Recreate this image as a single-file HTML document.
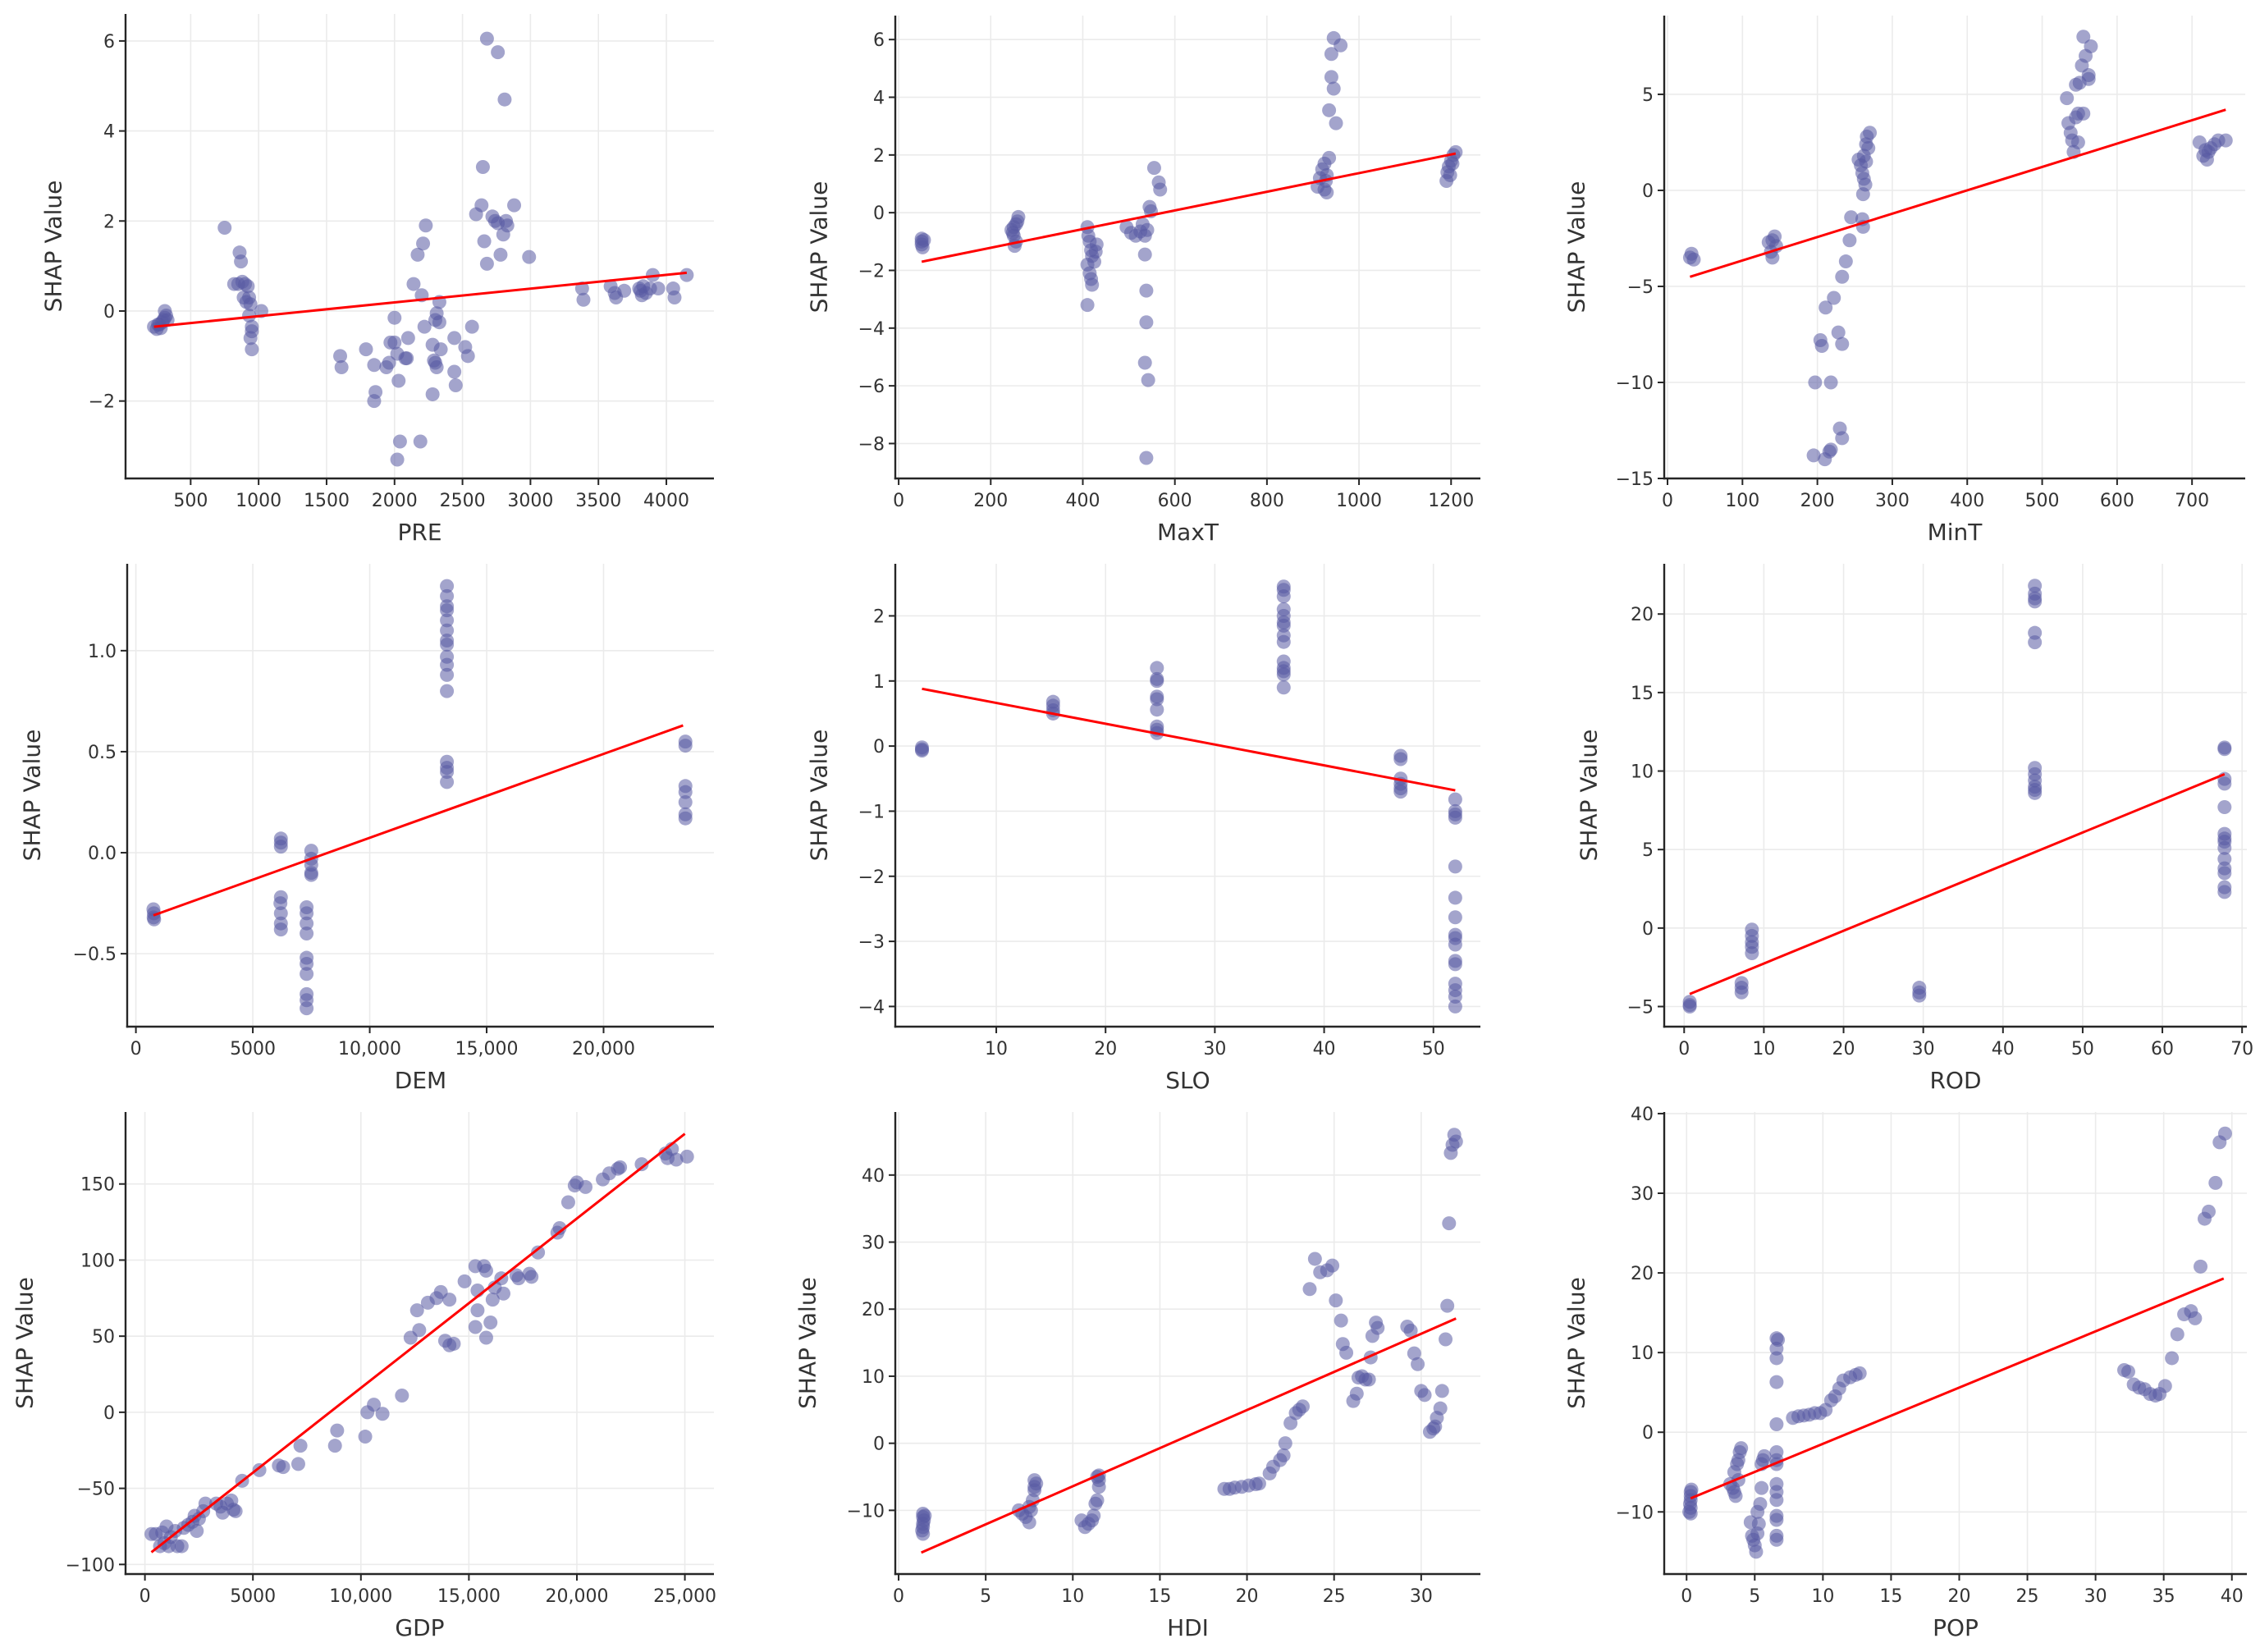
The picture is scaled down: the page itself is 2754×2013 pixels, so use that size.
<!DOCTYPE html>
<html><head><meta charset="utf-8"><style>
html,body{margin:0;padding:0;background:#fff;}
svg{display:block;font-family:"DejaVu Sans","Liberation Sans",sans-serif;}
</style></head><body>
<svg id="fig" width="2754" height="2013" viewBox="0 0 2754 2013" xmlns="http://www.w3.org/2000/svg"></svg>
<script>
// ---- data ----
const preX=[230,250,270,290,300,310,320,310,330,280,260,750,860,870,820,850,880,900,920,890,910,930,940,930,950,950,940,950,1020,1600,1610,1790,1850,1860,1850,1940,1960,1970,2000,2000,2020,2030,2040,2020,2090,2080,2100,2140,2170,2190,2200,2210,2230,2220,2280,2290,2300,2310,2280,2310,2300,2330,2340,2330,2440,2440,2450,2520,2540,2570,2600,2640,2650,2660,2680,2680,2720,2740,2760,2760,2780,2800,2810,2820,2830,2880,2990,3380,3390,3590,3620,3630,3690,3800,3810,3820,3830,3850,3880,3900,3940,4050,4060,4150];
const preY=[-0.35,-0.4,-0.3,-0.25,-0.2,-0.15,-0.1,0,-0.2,-0.38,-0.3,1.85,1.3,1.1,0.6,0.6,0.65,0.6,0.55,0.3,0.2,0.3,0.15,-0.1,-0.35,-0.45,-0.6,-0.85,0,-1.0,-1.25,-0.85,-1.2,-1.8,-2.0,-1.25,-1.15,-0.7,-0.7,-0.15,-0.95,-1.55,-2.9,-3.3,-1.05,-1.05,-0.6,0.6,1.25,-2.9,0.35,1.5,1.9,-0.35,-0.75,-1.1,-1.15,-1.25,-1.85,-0.05,-0.2,-0.25,-0.85,0.2,-0.6,-1.35,-1.65,-0.8,-1.0,-0.35,2.15,2.35,3.2,1.55,1.05,6.05,2.1,2.0,5.75,1.95,1.25,1.7,4.7,2.0,1.9,2.35,1.2,0.5,0.25,0.55,0.4,0.3,0.45,0.5,0.45,0.35,0.55,0.4,0.5,0.8,0.5,0.5,0.3,0.8];
const preLineX=[230,4150], preLineY=[-0.35,0.85];

const maxtX=[50,50,50,52,55,245,250,255,250,258,260,252,248,255,410,412,415,418,420,410,415,420,425,430,428,410,418,495,505,515,525,530,535,540,535,538,538,535,542,538,545,548,555,565,568,910,915,920,925,930,925,930,935,935,950,940,945,940,945,960,928,1190,1192,1195,1200,1205,1210,1198,1203];
const maxtY=[-0.9,-1.0,-1.1,-1.2,-0.95,-0.6,-0.8,-1.0,-0.5,-0.3,-0.15,-1.15,-0.7,-0.4,-0.5,-0.8,-1.0,-1.3,-1.5,-1.8,-2.1,-2.5,-1.7,-1.1,-1.35,-3.2,-2.3,-0.5,-0.7,-0.8,-0.65,-0.4,-0.8,-0.6,-1.45,-2.7,-3.8,-5.2,-5.8,-8.5,0.2,0.05,1.55,1.05,0.8,0.9,1.2,1.5,1.7,1.3,0.8,0.7,1.9,3.55,3.1,4.7,4.3,5.5,6.05,5.8,1.1,1.1,1.4,1.6,1.8,2.0,2.1,1.3,1.7];
const maxtLineX=[50,1210], maxtLineY=[-1.7,2.05];

const mintX=[30,32,35,135,138,140,143,145,140,195,210,218,216,230,233,197,218,204,206,228,233,211,222,233,238,243,245,260,261,255,258,260,262,261,264,262,265,266,268,270,265,533,535,538,540,542,545,548,545,550,555,553,558,555,565,562,562,548,710,715,720,722,725,730,735,745,718];
const mintY=[-3.5,-3.3,-3.6,-2.7,-3.2,-3.5,-2.4,-2.9,-2.6,-13.8,-14,-13.5,-13.6,-12.4,-12.9,-10,-10,-7.8,-8.1,-7.4,-8.0,-6.1,-5.6,-4.5,-3.7,-2.6,-1.4,-1.5,-1.9,1.6,1.3,0.9,0.6,-0.2,0.3,1.8,2.4,2.8,2.2,3.0,1.5,4.8,3.5,3.0,2.6,2.0,3.8,4.0,5.5,5.6,4.0,6.5,7.0,8.0,7.5,6.0,5.8,2.5,2.5,1.8,1.6,2.0,2.2,2.4,2.6,2.6,2.1];
const mintLineX=[30,745], mintLineY=[-4.5,4.2];

const demX=[750,760,770,780,6200,6200,6200,6200,6180,6200,6200,6200,7300,7300,7300,7300,7300,7300,7300,7300,7300,7300,7500,7500,7500,7500,7500,13300,13300,13300,13300,13300,13300,13300,13300,13300,13300,13300,13300,13300,13300,13300,13300,23500,23500,23500,23500,23500,23500,23500];
const demY=[-0.28,-0.32,-0.3,-0.33,0.05,0.07,0.03,-0.22,-0.25,-0.3,-0.35,-0.38,-0.27,-0.3,-0.35,-0.4,-0.52,-0.55,-0.6,-0.7,-0.73,-0.77,0.01,-0.03,-0.06,-0.1,-0.11,1.32,1.27,1.22,1.2,1.15,1.1,1.05,1.03,0.97,0.93,0.88,0.8,0.45,0.42,0.4,0.35,0.55,0.53,0.33,0.3,0.25,0.19,0.17];
const demLineX=[750,23400], demLineY=[-0.31,0.63];

const sloX=[3.2,3.2,3.2,15.2,15.2,15.2,15.2,24.7,24.7,24.7,24.7,24.7,24.7,24.7,24.7,24.7,36.3,36.3,36.3,36.3,36.3,36.3,36.3,36.3,36.3,36.3,36.3,36.3,36.3,36.3,47,47,47,47,47,47,52,52,52,52,52,52,52,52,52,52,52,52,52,52,52,52];
const sloY=[-0.02,-0.07,-0.05,0.68,0.62,0.55,0.5,1.2,1.03,1.0,0.76,0.72,0.56,0.3,0.25,0.2,2.45,2.4,2.3,2.1,2.0,1.9,1.85,1.7,1.6,1.3,1.2,1.15,1.1,0.9,-0.15,-0.2,-0.5,-0.58,-0.65,-0.7,-0.82,-1.0,-1.05,-1.1,-1.85,-2.33,-2.63,-2.9,-2.95,-3.05,-3.3,-3.35,-3.65,-3.75,-3.85,-4.0];
const sloLineX=[3.2,52], sloLineY=[0.88,-0.68];

const rodX=[0.7,0.7,0.7,7.2,7.2,7.2,8.5,8.5,8.5,8.5,8.5,29.5,29.5,29.5,44,44,44,44,44,44,44,44,44,44,44,44,67.8,67.8,67.8,67.8,67.8,67.8,67.8,67.8,67.8,67.8,67.8,67.8,67.8,67.8];
const rodY=[-4.7,-4.9,-5.0,-3.5,-3.8,-4.1,-0.1,-0.5,-0.9,-1.2,-1.6,-3.8,-4.1,-4.3,21.8,21.3,21.0,20.8,18.8,18.2,10.2,9.8,9.4,9.0,8.8,8.6,11.5,11.4,9.5,9.2,7.7,6.0,5.7,5.5,5.1,4.4,3.8,3.5,2.6,2.3];
const rodLineX=[0.7,67.8], rodLineY=[-4.2,9.8];

const gdpX=[300,500,700,800,1000,1100,1200,1400,1500,1700,1800,2000,2200,2300,2500,2700,2800,2400,900,3500,3600,3800,4000,4100,4200,3300,4500,5300,6200,6400,7100,7200,8800,8900,10200,10300,10600,11000,11900,12300,12700,12600,13100,13500,13700,14100,13900,14100,14300,14800,15300,15400,15700,15800,15400,15300,15800,16000,16100,16200,16500,16600,17200,17300,17800,17900,18200,19100,19200,19600,19900,20000,20400,21200,21500,21900,22000,23000,24200,24400,24600,25100,24100];
const gdpY=[-80,-80,-88,-79,-75,-88,-82,-78,-88,-88,-76,-74,-72,-68,-70,-65,-60,-78,-86,-62,-66,-60,-58,-64,-65,-60,-45,-38,-35,-36,-34,-22,-22,-12,-16,0,5,-1,11,49,54,67,72,75,79,74,47,44,45,86,96,80,96,93,67,56,49,59,74,82,88,78,90,88,91,89,105,118,121,138,149,151,148,153,157,160,161,163,167,173,166,168,170];
const gdpLineX=[300,25000], gdpLineY=[-92,183];

const hdiX=[1.4,1.4,1.45,1.4,1.4,1.35,1.4,1.5,6.9,7.1,7.3,7.5,7.6,7.7,7.8,7.8,7.9,7.8,7.5,10.5,10.7,10.9,11.1,11.2,11.3,11.4,11.5,11.5,11.5,11.4,18.7,19,19.3,19.7,20.1,20.5,20.7,21.3,21.5,21.9,22.1,22.2,22.5,22.8,23,23.2,23.6,23.9,24.2,24.6,24.9,25.1,25.4,25.5,25.7,26.1,26.3,26.4,26.6,26.8,27.0,27.1,27.2,27.4,27.5,29.2,29.4,29.6,29.8,30.0,30.2,30.5,30.7,30.8,30.9,31.1,31.2,31.4,31.5,31.6,31.7,31.8,31.9,32];
const hdiY=[-10.5,-11,-11.5,-12,-12.5,-13,-13.5,-10.8,-10,-10.5,-11,-11.8,-10,-8.5,-7,-6.5,-6,-5.5,-9.5,-11.5,-12.5,-12,-11.5,-10.8,-9,-8.5,-6.5,-5.5,-4.8,-5,-6.8,-6.8,-6.6,-6.5,-6.3,-6.1,-6,-4.5,-3.5,-2.5,-1.8,0,3,4.5,5,5.5,23,27.5,25.5,25.8,26.5,21.3,18.3,14.8,13.5,6.3,7.4,9.8,10,9.5,9.5,12.8,16,18,17.2,17.4,16.8,13.4,11.8,7.8,7.2,1.7,2.2,2.5,3.8,5.2,7.8,15.5,20.5,32.8,43.3,44.5,46,45];
const hdiLineX=[1.3,32], hdiLineY=[-16.3,18.6];

const popX=[0.3,0.3,0.3,0.25,0.3,0.2,0.3,0.35,3.2,3.4,3.5,3.6,3.5,3.7,3.8,3.9,4,3.8,4.7,4.8,4.9,5,5.1,5.2,5.2,5.3,5.4,5.5,5.5,5.7,5.6,6.6,6.6,6.6,6.6,6.6,6.6,6.6,6.6,6.6,6.6,6.6,6.6,6.6,6.6,6.6,6.7,7.8,8.2,8.6,9,9.4,9.8,10.2,10.6,10.9,11.2,11.5,12,12.4,12.7,32.1,32.4,32.8,33.2,33.6,34,34.4,34.7,35.1,35.6,36,36.5,37,37.3,37.7,38,38.3,38.8,39.1,39.5];
const popY=[-7.5,-8,-8.5,-9,-9.5,-10,-10.2,-7.2,-6.5,-7,-7.5,-8,-5,-4,-3.5,-2.5,-2,-6,-11.3,-13,-13.5,-14.2,-15,-12.7,-10,-11.5,-9,-7,-4,-3,-3.5,-2.5,-3.5,-4,-6.5,-7.5,-8.5,-10.5,-11,-13,-13.5,1,6.3,9.3,10.5,11.8,11.6,1.8,2.0,2.1,2.2,2.4,2.4,2.8,4,4.5,5.5,6.5,6.9,7.2,7.4,7.8,7.6,6,5.6,5.4,4.8,4.6,4.8,5.8,9.3,12.3,14.8,15.2,14.3,20.8,26.8,27.7,31.3,36.4,37.5];
const popLineX=[0.3,39.4], popLineY=[-8.3,19.3];

// tick values
const preXTicks=[500,1000,1500,2000,2500,3000,3500,4000], preYTicks=[-2,0,2,4,6];
const maxtXTicks=[0,200,400,600,800,1000,1200], maxtYTicks=[-8,-6,-4,-2,0,2,4,6];
const mintXTicks=[0,100,200,300,400,500,600,700], mintYTicks=[-15,-10,-5,0,5];
const demXTicks=[0,5000,10000,15000,20000], demYTicks=[-0.5,0,0.5,1.0];
const sloXTicks=[10,20,30,40,50], sloYTicks=[-4,-3,-2,-1,0,1,2];
const rodXTicks=[0,10,20,30,40,50,60,70], rodYTicks=[-5,0,5,10,15,20];
const gdpXTicks=[0,5000,10000,15000,20000,25000], gdpYTicks=[-100,-50,0,50,100,150];
const hdiXTicks=[0,5,10,15,20,25,30], hdiYTicks=[-10,0,10,20,30,40];
const popXTicks=[0,5,10,15,20,25,30,35,40], popYTicks=[-10,0,10,20,30,40];

// ---- layout ----
const panels=[
 {name:'pre',label:'PRE',x:preX,y:preY,lx:preLineX,ly:preLineY,xt:preXTicks,yt:preYTicks,box:[153,870,17,583],xd:[21,4350],yd:[-3.72,6.6],ylx:65,fmtY:v=>String(v)},
 {name:'maxt',label:'MaxT',x:maxtX,y:maxtY,lx:maxtLineX,ly:maxtLineY,xt:maxtXTicks,yt:maxtYTicks,box:[1091,1804,19,583],xd:[-7.3,1263.7],yd:[-9.21,6.83],ylx:998,fmtY:v=>String(v)},
 {name:'mint',label:'MinT',x:mintX,y:mintY,lx:mintLineX,ly:mintLineY,xt:mintXTicks,yt:mintYTicks,box:[2028,2736,19,583],xd:[-4.4,771],yd:[-15,9.1],ylx:1921,fmtY:v=>String(v)},
 {name:'dem',label:'DEM',x:demX,y:demY,lx:demLineX,ly:demLineY,xt:demXTicks,yt:demYTicks,box:[155,870,687,1251],xd:[-372,24720],yd:[-0.861,1.43],ylx:39,fmtY:v=>v.toFixed(1),comma:true},
 {name:'slo',label:'SLO',x:sloX,y:sloY,lx:sloLineX,ly:sloLineY,xt:sloXTicks,yt:sloYTicks,box:[1091,1804,687,1251],xd:[0.76,54.3],yd:[-4.31,2.8],ylx:998,fmtY:v=>String(v)},
 {name:'rod',label:'ROD',x:rodX,y:rodY,lx:rodLineX,ly:rodLineY,xt:rodXTicks,yt:rodYTicks,box:[2028,2738,687,1251],xd:[-2.5,70.6],yd:[-6.28,23.2],ylx:1936,fmtY:v=>String(v)},
 {name:'gdp',label:'GDP',x:gdpX,y:gdpY,lx:gdpLineX,ly:gdpLineY,xt:gdpXTicks,yt:gdpYTicks,box:[153,870,1355,1918],xd:[-897,26346],yd:[-106.3,197.3],ylx:30,fmtY:v=>String(v),comma:true},
 {name:'hdi',label:'HDI',x:hdiX,y:hdiY,lx:hdiLineX,ly:hdiLineY,xt:hdiXTicks,yt:hdiYTicks,box:[1091,1804,1355,1918],xd:[-0.19,33.4],yd:[-19.5,49.4],ylx:984,fmtY:v=>String(v)},
 {name:'pop',label:'POP',x:popX,y:popY,lx:popLineX,ly:popLineY,xt:popXTicks,yt:popYTicks,box:[2028,2738,1355,1918],xd:[-1.64,41.1],yd:[-17.8,40.2],ylx:1921,fmtY:v=>String(v)}
];
const NS='http://www.w3.org/2000/svg';
const svg=document.getElementById('fig');
function mk(tag,attrs,parent){const e=document.createElementNS(NS,tag);for(const k in attrs)e.setAttribute(k,attrs[k]);parent.appendChild(e);return e;}
function fmtX(v,comma){if(comma&&Math.abs(v)>=10000)return v.toLocaleString('en-US');return String(v);}
function neg(s){return s.replace('-','\u2212');}

panels.forEach(p=>{
  const [l,r,t,b]=p.box;
  const sx=v=>l+(v-p.xd[0])/(p.xd[1]-p.xd[0])*(r-l);
  const sy=v=>b-(v-p.yd[0])/(p.yd[1]-p.yd[0])*(b-t);
  const g=mk('g',{},svg);
  
  
  // grid
  const grid=mk('g',{stroke:'#ebebeb','stroke-width':1.6},g);
  
  
  p.xt.forEach(v=>{const X=sx(v);mk('line',{x1:X,x2:X,y1:t,y2:b},grid);});
  p.yt.forEach(v=>{const Y=sy(v);mk('line',{x1:l,x2:r,y1:Y,y2:Y},grid);});
  // points
  const pts=mk('g',{fill:'#575aa3','fill-opacity':0.55},g);
  
  
  p.x.forEach((xv,i)=>{
    const c=mk('circle',{cx:sx(xv),cy:sy(p.y[i]),r:8.5},pts);
    
    
  });
  // regression line
  const ln=mk('line',{x1:sx(p.lx[0]),y1:sy(p.ly[0]),x2:sx(p.lx[1]),y2:sy(p.ly[1]),stroke:'#ff0000','stroke-width':3},g);
  
  
  // axes
  const ax=mk('g',{stroke:'#262626','stroke-width':2.4,fill:'none'},g);
  
  
  mk('line',{x1:l,x2:l,y1:t,y2:b+1.2},ax);
  mk('line',{x1:l-1.2,x2:r,y1:b,y2:b},ax);
  const tl=mk('g',{fill:'#333','font-size':22},g);
  
  
  p.xt.forEach(v=>{const X=sx(v);
    mk('line',{x1:X,x2:X,y1:b,y2:b+8,stroke:'#262626','stroke-width':2},ax);
    const tx=mk('text',{x:X,y:b+34,'text-anchor':'middle'},tl);tx.textContent=neg(fmtX(v,p.comma));
    
    });
  p.yt.forEach(v=>{const Y=sy(v);
    mk('line',{x1:l-8,x2:l,y1:Y,y2:Y,stroke:'#262626','stroke-width':2},ax);
    const tx=mk('text',{x:l-13,y:Y+8,'text-anchor':'end'},tl);tx.textContent=neg(p.fmtY(v));
    
    });
  const xl=mk('text',{x:(l+r)/2,y:b+75,'text-anchor':'middle','font-size':28,fill:'#333'},g);
  xl.textContent=p.label;
  
  
  const yc=(t+b)/2;
  const yl=mk('text',{x:p.ylx,y:yc,'text-anchor':'middle','font-size':28,fill:'#333','dominant-baseline':'central',transform:`rotate(-90 ${p.ylx} ${yc})`},g);
  yl.textContent='SHAP Value';
  
  
});
</script>
</body></html>
